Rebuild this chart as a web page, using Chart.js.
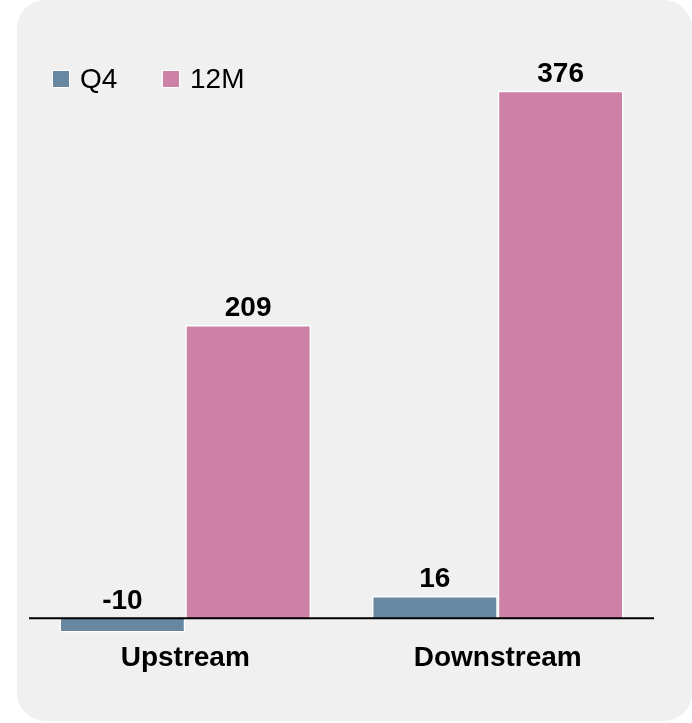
<!DOCTYPE html>
<html>
<head>
<meta charset="utf-8">
<script src="https://cdn.jsdelivr.net/npm/chart.js@4.4.1/dist/chart.umd.min.js"></script>
<style>
  html, body {
    margin: 0;
    padding: 0;
    background: #ffffff;
    font-family: "Liberation Sans", Arial, sans-serif;
  }
  #wrap {
    position: relative;
    width: 692px;
    height: 723px;
    overflow: hidden;
  }
  #panel {
    position: absolute;
    left: 17px;
    top: 0;
    width: 675px;
    height: 721px;
    border-radius: 28px;
    background: #f0f0f0;
  }
  #chart {
    position: absolute;
    left: 0;
    top: 0;
  }
  .legend-item {
    position: absolute;
    top: 63px;
    height: 32px;
    line-height: 32px;
    font-size: 28px;
    color: #000;
    white-space: nowrap;
  }
  .legend-box {
    display: inline-block;
    width: 16px;
    height: 16px;
    border: 1.5px solid #ffffff;
    margin-right: 10px;
    vertical-align: 0px;
  }
</style>
</head>
<body>
<div id="wrap">
  <div id="panel"></div>
  <canvas id="chart" width="692" height="723"></canvas>
  <div id="legend"></div>
</div>
<script>
const categories = ["Upstream", "Downstream"];
const seriesNames = ["Q4", "12M"];
const q4Values = [-10, 16];
const twelveMonthValues = [209, 376];
const seriesColors = ["#6888a2", "#ce81a7"];

const labelFont = "bold 28px 'Liberation Sans', Arial, sans-serif";

// legend sits in the top-left corner of the panel
const legendLeft = [52, 162];
const legend = document.getElementById("legend");
seriesNames.forEach((name, i) => {
  const item = document.createElement("div");
  item.className = "legend-item";
  item.style.left = legendLeft[i] + "px";
  const box = document.createElement("span");
  box.className = "legend-box";
  box.style.background = seriesColors[i];
  item.appendChild(box);
  item.appendChild(document.createTextNode(name));
  legend.appendChild(item);
});

// zero line plus the value above each bar
const valueLabels = {
  id: "valueLabels",
  afterDatasetsDraw(chart) {
    const ctx = chart.ctx;
    const area = chart.chartArea;
    const zeroY = chart.scales.y.getPixelForValue(0);

    ctx.save();
    ctx.strokeStyle = "#000000";
    ctx.lineWidth = 2;
    ctx.beginPath();
    ctx.moveTo(area.left, zeroY);
    ctx.lineTo(area.right, zeroY);
    ctx.stroke();

    ctx.font = labelFont;
    ctx.fillStyle = "#000000";
    ctx.textAlign = "center";
    ctx.textBaseline = "alphabetic";
    chart.data.datasets.forEach((ds, i) => {
      chart.getDatasetMeta(i).data.forEach((bar, j) => {
        const top = Math.min(bar.y, bar.base);
        ctx.fillText(String(ds.data[j]), bar.x, top - 9);
      });
    });
    ctx.restore();
  },
};

const datasets = [q4Values, twelveMonthValues].map((values, i) => ({
  label: seriesNames[i],
  data: values,
  backgroundColor: seriesColors[i],
  borderColor: "#ffffff",
  borderWidth: 1.5,
  categoryPercentage: 0.805,
  barPercentage: 1.0,
}));

new Chart(document.getElementById("chart"), {
  type: "bar",
  data: {
    labels: categories,
    datasets: datasets,
  },
  plugins: [valueLabels],
  options: {
    responsive: false,
    animation: false,
    devicePixelRatio: 1,
    layout: {
      padding: { top: 57, left: 29, right: 38, bottom: 46 },
    },
    plugins: {
      legend: { display: false },
      tooltip: { enabled: false },
    },
    scales: {
      x: {
        grid: { display: false, drawTicks: false },
        border: { display: false },
        ticks: {
          padding: 2,
          color: "#000000",
          font: { family: "'Liberation Sans', Arial, sans-serif", size: 28, weight: "bold" },
        },
      },
      y: {
        display: false,
        min: -15,
        max: 400,
      },
    },
  },
});
</script>
</body>
</html>
